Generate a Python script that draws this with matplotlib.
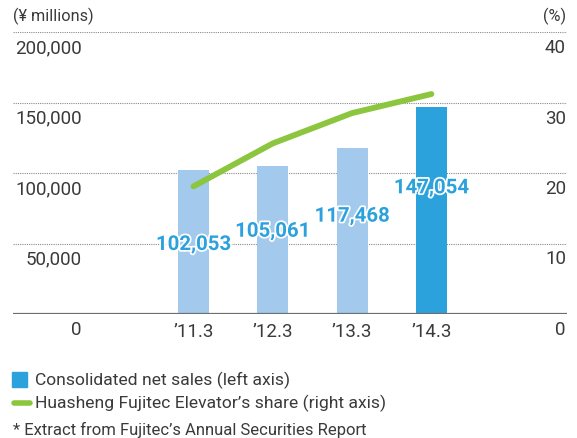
import matplotlib
matplotlib.use("Agg")
import matplotlib.pyplot as plt
import matplotlib.patheffects as pe
import matplotlib.transforms as mtransforms
from matplotlib.patches import Rectangle
from matplotlib.lines import Line2D

plt.rcParams["font.family"] = ["Roboto", "DejaVu Sans"]

# data
years = ["\u201911.3", "\u201912.3", "\u201913.3", "\u201914.3"]
net_sales = [102053, 105061, 117468, 147054]          # ¥ millions
share = [18.1, 24.2, 28.5, 31.2]                        # %
sales_label_y = [45400, 54800, 65500, 85600]            # where the value labels sit
left_ticks = [0, 50000, 100000, 150000, 200000]
right_ticks = [0, 10, 20, 30, 40]

LIGHT_BLUE = "#a3c9ec"
BLUE = "#2ca2dd"
GREEN = "#8cc63f"
TEXT = "#3a3a3a"

W, H = 577, 438
fig = plt.figure(figsize=(W / 100, H / 100), dpi=100)


def fx(x):
    return x / W


def fy(y):
    return 1 - y / H


ax = fig.add_axes([fx(13), fy(314), fx(554), 282 / H])
ax2 = ax.twinx()
for a in (ax, ax2):
    for s in a.spines.values():
        s.set_visible(False)
    a.set_xticks([])
    a.set_yticks([])
ax.set_ylim(0, 200000)
ax2.set_ylim(0, 40)
ax.set_xlim(-2.276, 4.71)

xs = list(range(len(years)))
colors = [LIGHT_BLUE] * (len(years) - 1) + [BLUE]
ax.bar(xs, net_sales, width=0.39, color=colors, zorder=2)

for v in left_ticks[1:]:
    ax.axhline(v, color="#8a8a8a", lw=0.8, ls=(0, (1, 1)), zorder=1)
ax.axhline(0, color="#6e6e6e", lw=1.6, zorder=3)

ax2.plot(xs, share, color=GREEN, lw=4.2, solid_capstyle="round",
         solid_joinstyle="round", zorder=4)

# tick labels sit under their gridlines
below = mtransforms.offset_copy(ax.get_yaxis_transform(), fig=fig, y=-21, units="dots")
for v in left_ticks:
    ax.text((82 - 13) / 554, v, f"{v:,}", transform=below, ha="right",
            va="baseline", fontsize=13.5, color=TEXT)
below2 = mtransforms.offset_copy(ax2.get_yaxis_transform(), fig=fig, y=-21, units="dots")
for v in right_ticks:
    ax2.text((566 - 13) / 554, v, f"{v}", transform=below2, ha="right",
             va="baseline", fontsize=13.5, color=TEXT)

xlab = mtransforms.offset_copy(ax.transData, fig=fig, y=-23, units="dots")
for x, lab in zip(xs, years):
    ax.text(x, 0, lab, transform=xlab, ha="center", va="baseline",
            fontsize=13.5, color=TEXT)

for x, v, ly in zip(xs, net_sales, sales_label_y):
    ax2.text(x, ly * 40 / 200000, f"{v:,}", ha="center", va="baseline",
             fontsize=14.7, fontweight="bold", color=BLUE, zorder=5,
             path_effects=[pe.withStroke(linewidth=2.5, foreground="white")])

fig.text(fx(13), fy(16), "(\u00a5 millions)", ha="left", va="center",
         fontsize=11.7, color=TEXT)
fig.text(fx(566), fy(16), "(%)", ha="right", va="center",
         fontsize=11.7, color=TEXT)

# legend
fig.add_artist(Rectangle((fx(12), fy(387)), fx(15), 15 / H, color=BLUE,
                         transform=fig.transFigure))
fig.add_artist(Line2D([fx(14), fx(30)], [fy(403), fy(403)], color=GREEN, lw=4,
                      solid_capstyle="round", transform=fig.transFigure))
fig.text(fx(35), fy(380), "Consolidated net sales (left axis)", ha="left",
         va="center", fontsize=12.6, color=TEXT)
fig.text(fx(35), fy(403), "Huasheng Fujitec Elevator\u2019s share (right axis)",
         ha="left", va="center", fontsize=12.6, color=TEXT)
fig.text(fx(13), fy(430), "* Extract from Fujitec\u2019s Annual Securities Report",
         ha="left", va="center", fontsize=12, color=TEXT)

fig.savefig("out.png", dpi=100)
plt.close(fig)
